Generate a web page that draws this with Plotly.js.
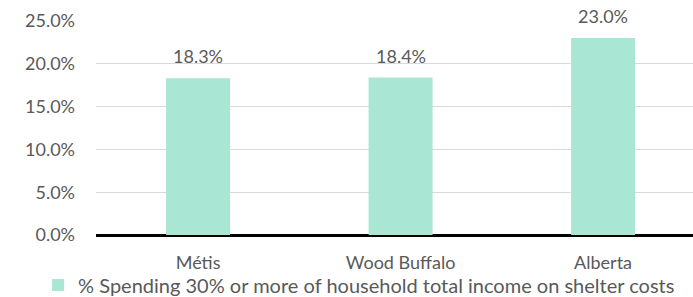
<!DOCTYPE html>
<html><head><meta charset="utf-8">
<script src="https://cdn.plot.ly/plotly-3.0.1.min.js"></script>
<style>html,body{margin:0;padding:0;background:#fff}#c{width:693px;height:297px}</style>
</head><body><div id="c"></div>
<script>
const categories = ["Métis", "Wood Buffalo", "Alberta"];
const values = [18.3, 18.4, 23.0];
const seriesName = "% Spending 30% or more of household total income on shelter costs";
const tickVals = [0, 5, 10, 15, 20, 25];
const tickText = ["0.0%", "5.0%", "10.0%", "15.0%", "20.0%", "25.0%"];

const font = {family: "Lato, 'Open Sans', sans-serif", size: 18, color: "#595959"};
const legendFont = {family: "Lato, 'Open Sans', sans-serif", size: 20, color: "#595959"};
Plotly.newPlot("c", [{
  type: "bar",
  x: categories,
  y: values,
  name: seriesName,
  width: 0.316,
  marker: {color: "#A9E6D3"},
  hoverinfo: "none"
}], {
  width: 693, height: 297,
  margin: {l: 96, r: 0, t: 21, b: 62},
  paper_bgcolor: "#fff", plot_bgcolor: "#fff",
  font: font,
  showlegend: true,
  legend: {orientation: "h", xref: "container", yref: "container", x: 0.055, xanchor: "left", y: 0.04, yanchor: "middle",
           font: legendFont, itemwidth: 30, bgcolor: "rgba(0,0,0,0)", tracegroupgap: 0},
  annotations: categories.map((c, i) => ({
    x: c, y: values[i], xref: "x", yref: "y", text: values[i].toFixed(1) + "%",
    showarrow: false, yanchor: "bottom", yshift: 9, font: font
  })),
  xaxis: {range: [-0.504, 2.444], showgrid: false, zeroline: false, showline: false, ticks: "", tickfont: font, ticklabelstandoff: 15, fixedrange: true, automargin: false},
  yaxis: {range: [0, 25], tickvals: tickVals, ticktext: tickText, showgrid: true, gridcolor: "#D9D9D9", gridwidth: 1,
          zeroline: true, zerolinecolor: "#000", zerolinewidth: 3, showline: false, ticks: "", tickfont: font, ticklabelstandoff: 20, fixedrange: true, automargin: false}
}, {displayModeBar: false, staticPlot: true});
</script></body></html>
